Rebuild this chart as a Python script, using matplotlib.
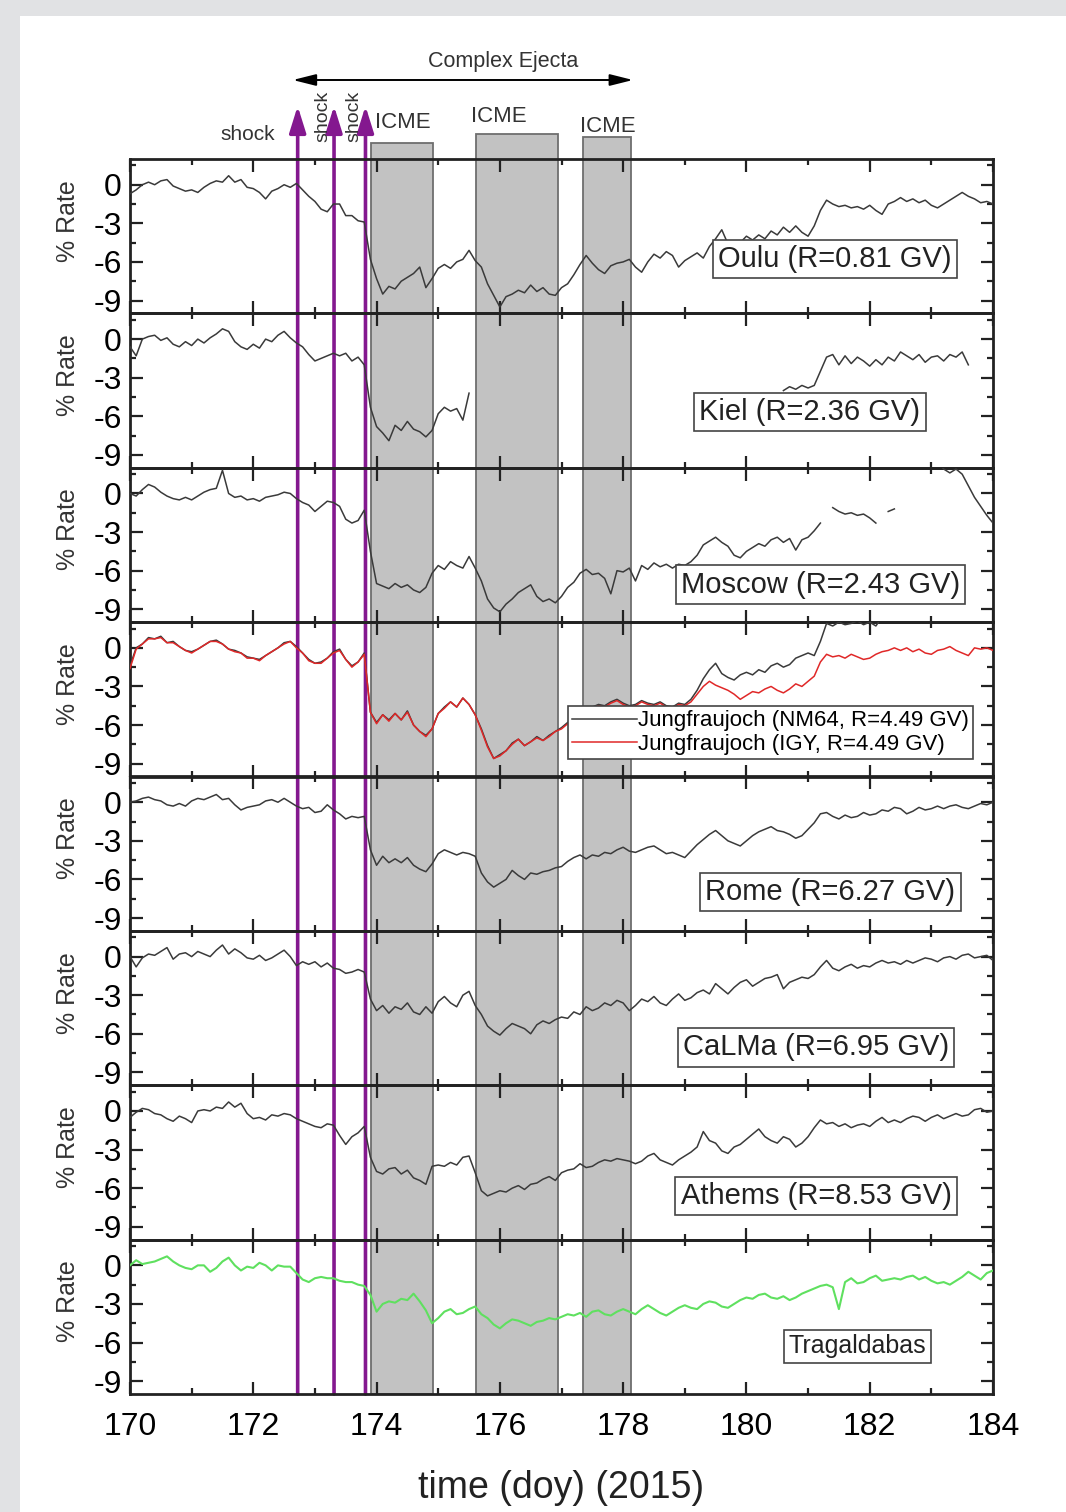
import numpy as np
import matplotlib
matplotlib.use("Agg")
import matplotlib.pyplot as plt
from matplotlib.patches import Rectangle
from matplotlib.ticker import MultipleLocator, FixedLocator

plt.rcParams['font.family'] = ['Liberation Sans', 'DejaVu Sans']

# ---------------- data ----------------
days = np.round(np.arange(170.0, 184.0001, 0.1), 1)   # sampling grid (doy 2015)
nan = np.nan

oulu = [-0.7,-0.4,0.0,0.2,0.0,0.3,0.4,-0.1,-0.3,-0.5,
        -0.4,-0.6,-0.2,0.1,0.3,0.2,0.7,0.2,0.4,-0.2,
        -0.3,-0.6,-1.1,-0.5,-0.3,0.0,-0.2,0.1,-0.4,-0.9,
        -1.3,-1.9,-2.1,-1.5,-1.5,-2.4,-2.4,-2.8,-2.9,-5.8,
        -7.3,-8.5,-7.9,-8.1,-7.5,-7.2,-6.9,-6.4,-8.0,-7.3,
        -6.5,-6.2,-6.5,-6.0,-5.8,-5.1,-5.9,-6.4,-7.7,-8.6,
        -9.5,-8.7,-8.5,-8.2,-8.4,-7.8,-8.3,-8.0,-8.5,-8.6,
        -8.0,-7.7,-7.0,-6.2,-5.5,-6.1,-6.6,-6.9,-6.3,-6.1,
        -6.0,-5.8,-6.4,-6.8,-6.0,-5.4,-5.7,-5.2,-5.5,-6.4,
        -5.9,-5.6,-5.3,-5.7,-4.8,-4.2,-3.5,-4.6,-4.4,-4.5,
        -4.0,-4.3,-3.9,-4.2,-3.6,-3.9,-3.3,-3.7,-3.2,-3.7,
        -4.0,-3.2,-2.0,-1.2,-1.5,-1.7,-1.6,-1.8,-1.7,-1.9,
        -1.6,-2.0,-2.3,-1.5,-1.3,-1.0,-1.3,-1.1,-1.4,-1.2,
        -1.6,-1.8,-1.5,-1.2,-0.9,-0.6,-0.9,-1.1,-1.4,-1.3,
        -1.5]

kiel = [-0.6,-1.3,0.0,0.2,0.3,-0.1,0.1,-0.4,-0.6,-0.2,
        -0.5,0.0,-0.3,0.1,0.4,0.8,0.6,-0.2,-0.6,-0.8,
        -0.4,-0.7,0.0,-0.2,0.3,0.6,0.1,-0.3,-0.6,-1.2,
        -1.7,-1.5,-1.3,-1.1,-1.3,-1.1,-1.7,-1.4,-2.0,-5.3,
        -6.8,-7.3,-7.9,-6.7,-7.1,-6.4,-7.0,-7.2,-7.6,-7.1,
        -5.8,-5.3,-5.6,-5.4,-6.3,-4.2,nan,nan,nan,nan,
        nan,nan,nan,nan,nan,nan,nan,nan,nan,nan,
        nan,nan,nan,nan,nan,nan,nan,nan,nan,nan,
        nan,nan,nan,nan,nan,nan,nan,nan,nan,nan,
        nan,nan,nan,nan,nan,nan,nan,nan,nan,nan,
        nan,nan,nan,nan,nan,nan,-4.0,-3.7,-3.9,-3.6,
        -3.8,-3.6,-2.5,-1.4,-1.2,-2.0,-1.3,-1.9,-1.4,-1.7,
        -2.1,-1.6,-2.0,-1.4,-1.7,-1.0,-1.3,-1.6,-1.2,-1.8,
        -1.4,-1.3,-1.7,-1.2,-1.4,-1.0,-2.0,nan,nan,nan,
        nan]

moscow = [0.0,-0.2,0.3,0.7,0.5,0.1,-0.2,-0.4,-0.5,-0.3,
          -0.5,-0.2,0.1,0.3,0.4,1.8,0.0,-0.3,-0.2,-0.5,
          -0.4,-0.6,-0.3,-0.2,-0.1,0.1,0.0,-0.4,-0.7,-0.9,
          -1.4,-1.0,-0.6,-0.7,-1.0,-2.0,-2.3,-2.1,-1.3,-4.5,
          -7.0,-7.2,-7.4,-7.0,-7.3,-7.1,-7.5,-7.7,-7.3,-6.2,
          -5.6,-5.9,-5.3,-5.6,-5.8,-4.9,-5.8,-6.8,-8.2,-8.9,
          -9.2,-8.6,-8.2,-7.7,-7.4,-7.1,-8.0,-8.4,-8.2,-8.5,
          -8.0,-7.3,-6.9,-6.2,-5.9,-6.3,-6.2,-6.6,-7.8,-6.0,
          -6.1,-5.8,-6.8,-5.6,-5.9,-5.4,-5.7,-5.5,-5.8,-5.5,
          -5.6,-5.3,-4.8,-4.0,-3.7,-3.4,-3.8,-4.1,-4.8,-5.0,
          -4.5,-4.2,-3.9,-4.1,-3.6,-3.4,-3.8,-3.5,-4.4,-3.6,
          -3.4,-2.9,-2.3,nan,-1.1,-1.4,-1.6,-1.5,-1.7,-1.6,
          -1.9,-2.3,nan,-1.4,-1.2,nan,nan,nan,nan,nan,
          nan,2.4,1.9,1.6,1.9,1.5,0.6,-0.3,-1.0,-1.7,
          -2.3]

jf_nm64 = [-1.4,0.0,0.3,0.8,0.7,0.9,0.4,0.5,0.1,-0.2,
           -0.3,-0.1,0.2,0.5,0.6,0.3,-0.1,-0.2,-0.4,-0.7,
           -0.8,-0.9,-0.6,-0.3,0.0,0.4,0.5,0.1,-0.4,-0.9,
           -1.2,-1.1,-0.8,-0.3,-0.1,-0.9,-1.4,-1.1,-0.4,-5.0,
           -5.8,-5.2,-5.6,-5.1,-5.6,-4.9,-6.0,-6.5,-6.8,-6.3,
           -5.1,-4.6,-4.2,-4.6,-3.9,-4.4,-5.2,-6.3,-7.6,-8.6,
           -8.3,-8.0,-7.4,-7.1,-7.6,-7.3,-6.9,-7.2,-6.8,-6.5,
           -6.2,-5.8,-5.4,-5.0,-4.8,-4.6,-4.4,-4.5,-4.2,-4.0,
           -4.3,-4.5,-4.4,-4.1,-4.3,-4.4,-4.2,-4.5,-4.6,-4.3,
           -4.4,-4.0,-3.3,-2.4,-1.7,-1.2,-2.0,-2.3,-2.5,-2.1,
           -1.9,-2.1,-1.7,-1.9,-1.4,-1.2,-1.5,-1.3,-0.8,-0.6,
           -0.4,-0.6,0.5,1.9,1.7,2.0,1.8,1.9,2.1,1.8,
           2.0,1.7,2.4,2.6,2.5,2.7,2.6,2.8,2.7,2.9,
           2.8,3.0,2.9,3.1,3.0,2.9,3.1,3.0,3.2,3.1,
           3.0]

jf_igy = [-1.6,-0.1,0.3,0.7,0.7,0.8,0.4,0.4,0.1,-0.2,
          -0.4,-0.1,0.2,0.5,0.5,0.3,-0.1,-0.3,-0.4,-0.8,
          -0.8,-1.0,-0.6,-0.3,0.0,0.3,0.5,0.0,-0.4,-1.0,
          -1.2,-1.2,-0.8,-0.4,-0.2,-0.9,-1.5,-1.1,-0.5,-5.0,
          -5.9,-5.2,-5.7,-5.1,-5.6,-5.0,-6.0,-6.5,-6.9,-6.3,
          -5.1,-4.7,-4.2,-4.6,-3.9,-4.4,-5.2,-6.4,-7.7,-8.6,
          -8.4,-8.0,-7.5,-7.1,-7.6,-7.3,-7.0,-7.2,-6.9,-6.5,
          -6.3,-5.9,-5.5,-5.1,-4.9,-4.7,-4.5,-4.6,-4.3,-4.1,
          -4.4,-4.6,-4.5,-4.2,-4.4,-4.5,-4.3,-4.6,-4.7,-4.4,
          -4.5,-4.2,-3.6,-3.0,-2.6,-2.9,-3.1,-3.3,-3.6,-4.0,
          -3.7,-3.4,-3.5,-3.2,-3.0,-3.3,-3.5,-3.2,-2.8,-3.0,
          -2.6,-2.2,-1.1,-0.5,-0.7,-0.6,-0.8,-0.5,-0.7,-0.9,
          -0.8,-0.5,-0.3,-0.2,0.0,-0.2,0.0,-0.3,-0.1,-0.4,
          -0.5,-0.2,-0.1,0.1,-0.2,-0.4,-0.6,0.0,-0.1,0.0,
          -0.2]

rome = [0.0,0.1,0.3,0.4,0.2,0.1,-0.2,-0.3,-0.1,-0.3,
        0.1,0.3,0.2,0.4,0.6,0.2,0.3,-0.2,-0.6,-0.4,
        -0.3,-0.2,0.1,0.2,0.0,0.3,0.0,-0.3,-0.5,-0.4,
        -0.8,-0.7,-0.2,-0.6,-0.9,-1.3,-1.1,-1.2,-1.1,-3.7,
        -4.9,-4.2,-4.7,-4.4,-4.7,-4.3,-4.9,-5.2,-5.4,-4.8,
        -4.0,-3.7,-3.9,-4.1,-3.9,-4.0,-4.2,-5.5,-6.2,-6.6,
        -6.3,-6.0,-5.3,-5.7,-6.0,-5.5,-5.6,-5.4,-5.3,-5.1,
        -5.0,-4.6,-4.3,-4.1,-4.4,-4.1,-4.2,-3.9,-4.0,-3.7,
        -3.5,-3.8,-3.9,-3.7,-3.5,-3.4,-3.7,-4.0,-3.9,-4.1,
        -4.3,-3.8,-3.3,-2.9,-2.5,-2.2,-2.6,-3.0,-3.2,-3.4,
        -3.0,-2.6,-2.3,-2.1,-1.9,-2.2,-2.3,-2.5,-2.8,-2.6,
        -2.1,-1.6,-0.9,-0.8,-1.1,-1.3,-1.0,-1.2,-1.1,-0.8,
        -1.0,-0.9,-0.6,-0.7,-0.4,-0.5,-0.9,-0.7,-0.4,-0.6,
        -0.5,-0.3,-0.5,-0.3,-0.2,-0.4,-0.5,-0.3,-0.1,-0.2,
        0.0]

calma = [0.0,-0.8,-0.1,0.2,0.1,0.4,0.7,-0.2,0.2,0.3,
         0.0,0.4,0.2,0.0,0.5,0.9,0.2,0.6,0.3,-0.1,
         -0.2,0.1,-0.3,-0.1,0.2,0.5,0.0,-0.7,-0.4,-0.6,
         -0.4,-0.8,-0.5,-0.9,-1.0,-1.3,-1.2,-1.0,-1.2,-3.3,
         -4.2,-3.8,-4.4,-3.9,-4.1,-3.6,-4.3,-4.5,-3.9,-4.4,
         -3.5,-3.1,-3.6,-3.9,-3.0,-2.7,-3.8,-4.5,-5.4,-5.8,
         -6.1,-5.6,-5.2,-5.4,-5.6,-6.0,-5.3,-5.0,-5.2,-4.9,
         -4.7,-4.8,-4.3,-4.5,-3.9,-4.2,-4.0,-3.6,-3.8,-3.4,
         -3.6,-4.2,-3.8,-3.3,-3.5,-3.1,-3.6,-3.8,-3.3,-2.9,
         -3.4,-3.2,-2.8,-2.6,-2.9,-2.1,-2.5,-2.9,-2.4,-2.0,
         -1.8,-2.3,-2.0,-1.7,-1.6,-1.4,-2.5,-2.0,-1.8,-1.6,
         -1.7,-1.4,-0.8,-0.3,-0.9,-1.1,-0.8,-0.6,-0.9,-0.7,
         -0.8,-0.5,-0.3,-0.5,-0.4,-0.6,-0.3,-0.5,-0.3,-0.1,
         -0.2,-0.4,-0.1,0.0,-0.2,0.1,0.2,-0.1,0.0,0.1,
         -0.3]

athens = [-0.5,-0.1,0.2,0.1,-0.2,-0.3,-0.6,-0.8,-0.4,-0.6,
          -0.9,0.0,0.1,0.0,0.3,0.2,0.7,0.3,0.6,-0.2,
          -0.6,-0.5,-0.7,-0.3,-0.4,-0.2,-0.3,-0.6,-0.8,-1.0,
          -1.2,-1.3,-1.0,-1.1,-1.9,-2.6,-2.0,-1.7,-1.2,-3.6,
          -4.7,-4.9,-4.5,-4.4,-4.9,-4.6,-5.2,-5.4,-5.7,-4.3,
          -4.2,-4.3,-4.0,-4.2,-3.6,-3.5,-4.8,-6.2,-6.6,-6.4,
          -6.2,-6.3,-6.0,-5.8,-6.1,-5.7,-5.6,-5.3,-5.1,-5.4,
          -4.8,-4.6,-4.5,-4.1,-4.4,-4.3,-4.0,-3.8,-3.9,-3.7,
          -3.8,-3.9,-4.1,-3.9,-3.5,-3.3,-3.8,-4.0,-4.2,-3.8,
          -3.5,-3.2,-2.8,-1.6,-2.3,-2.5,-3.1,-3.3,-2.8,-2.6,
          -2.2,-1.8,-1.4,-2.0,-2.3,-2.5,-2.0,-2.2,-2.8,-2.5,
          -2.0,-1.3,-0.7,-1.0,-0.9,-1.2,-1.0,-1.3,-1.1,-1.0,
          -1.2,-0.8,-0.5,-0.9,-0.7,-0.9,-0.6,-0.4,-0.5,-0.8,
          -0.5,-0.3,-0.6,-0.4,-0.2,-0.4,-0.3,0.1,0.2,-0.1,
          0.0]

tragaldabas = [0.0,0.4,0.1,0.2,0.3,0.5,0.7,0.3,0.0,-0.2,
               -0.3,0.0,0.0,-0.5,-0.2,0.3,0.6,0.0,-0.4,-0.1,
               -0.2,0.2,0.0,-0.4,0.0,-0.1,-0.1,-0.6,-1.1,-1.3,
               -1.0,-0.9,-1.0,-1.0,-1.2,-1.3,-1.3,-1.5,-1.6,-2.3,
               -3.6,-3.0,-2.8,-2.9,-2.6,-2.7,-2.2,-2.8,-3.5,-4.5,
               -4.1,-3.6,-3.4,-3.8,-3.7,-3.4,-3.2,-3.8,-4.1,-4.6,
               -4.9,-4.5,-4.2,-4.3,-4.5,-4.7,-4.4,-4.3,-4.1,-4.2,
               -4.0,-3.8,-3.9,-3.7,-4.0,-3.6,-3.5,-3.8,-3.9,-3.6,
               -3.4,-3.6,-3.8,-3.4,-3.1,-3.4,-3.7,-3.9,-3.6,-3.3,
               -3.1,-3.3,-3.4,-3.0,-2.8,-2.9,-3.2,-3.3,-3.0,-2.7,
               -2.5,-2.6,-2.3,-2.2,-2.5,-2.6,-2.4,-2.7,-2.5,-2.2,
               -2.0,-1.8,-1.6,-1.5,-1.7,-3.4,-1.3,-1.0,-1.4,-1.3,
               -1.0,-0.8,-1.2,-1.1,-1.0,-1.1,-0.9,-0.8,-1.1,-0.9,
               -1.2,-1.4,-1.3,-1.5,-1.2,-0.9,-0.5,-0.8,-1.1,-0.6,
               -0.4]

stations = ["Oulu (R=0.81 GV)", "Kiel (R=2.36 GV)", "Moscow (R=2.43 GV)", None,
            "Rome (R=6.27 GV)", "CaLMa (R=6.95 GV)", "Athems (R=8.53 GV)", "Tragaldabas"]
label_pos = [(181.44, -5.76), (181.03, -5.66), (181.2, -7.08), None,
             (181.36, -6.98), (181.13, -7.05), (181.13, -6.6), (181.8, -6.3)]
series = [oulu, kiel, moscow, None, rome, calma, athens, tragaldabas]
legend_labels = ["Jungfraujoch (NM64, R=4.49 GV)", "Jungfraujoch (IGY, R=4.49 GV)"]

shock_days = [172.72, 173.31, 173.82]
icme_start = [173.91, 175.61, 177.35]
icme_end = [174.92, 176.94, 178.12]
ejecta_span = [172.64, 178.16]

x_ticks = [170, 172, 174, 176, 178, 180, 182, 184]
y_ticks = [0, -3, -6, -9]

# ---------------- layout ----------------
W, H = 1066, 1512
fig = plt.figure(figsize=(W / 100, H / 100), dpi=100)
fig.patch.set_facecolor('#e1e2e4')
fig.patches.append(Rectangle((20 / W, 0), 1 - 20 / W, 1 - 16 / H, transform=fig.transFigure,
                             facecolor='white', edgecolor='none', zorder=-10))

px_left, px_right = 130, 993
px_top, px_bot = 159, 1394
L, R = px_left / W, px_right / W
T, B = 1 - px_top / H, 1 - px_bot / H
npan = 8
ph = (T - B) / npan

# background overlay axes in (day, pixel-y) coordinates
axbg = fig.add_axes([0, 0, 1, 1], zorder=0)
axbg.set_axis_off()
dpd = (px_right - px_left) / 14.0
axbg.set_xlim(170 - px_left / dpd, 184 + (W - px_right) / dpd)
axbg.set_ylim(H, 0)

box_tops = [143, 134, 137]
for s, e, t in zip(icme_start, icme_end, box_tops):
    axbg.add_patch(Rectangle((s, t), e - s, px_bot - t, facecolor='#c2c2c2',
                             edgecolor='#6e6e6e', lw=1.3, zorder=1))

purple = '#84188f'
for d in shock_days:
    axbg.annotate('', xy=(d, 106), xytext=(d, px_bot),
                  arrowprops=dict(arrowstyle='-|>,head_length=1.6,head_width=0.5',
                                  color=purple, lw=2.6, shrinkA=0, shrinkB=0), zorder=3)

axbg.annotate('', xy=(ejecta_span[0], 80), xytext=(ejecta_span[1], 80),
              arrowprops=dict(arrowstyle='<|-|>,head_length=1.4,head_width=0.35',
                              color='black', lw=1.4, shrinkA=0, shrinkB=0))
txtc = '#333333'
axbg.text(176.05, 61, 'Complex Ejecta', ha='center', va='center',
          fontsize=15.5, color=txtc)
axbg.text(shock_days[0] - 0.81, 135, 'shock', ha='center', va='center', fontsize=15, color=txtc)
axbg.text(shock_days[1] - 0.18, 116, 'shock', ha='center', va='center', fontsize=14,
          rotation=90, color=txtc)
axbg.text(shock_days[2] - 0.19, 116, 'shock', ha='center', va='center', fontsize=14,
          rotation=90, color=txtc)
icme_lbl = [(174.42, 122), (175.99, 117), (177.75, 127)]
for (x, y) in icme_lbl:
    axbg.text(x, y, 'ICME', ha='center', va='center', fontsize=16, color=txtc)

# ---------------- panels ----------------
axes = []
for i in range(npan):
    ax = fig.add_axes([L, T - (i + 1) * ph, R - L, ph], zorder=1)
    ax.set_facecolor('none')
    ax.set_xlim(170, 184)
    ax.set_ylim(-10, 2)
    ax.xaxis.set_major_locator(FixedLocator(x_ticks))
    ax.xaxis.set_minor_locator(MultipleLocator(1))
    ax.yaxis.set_major_locator(FixedLocator(y_ticks))
    ax.yaxis.set_minor_locator(FixedLocator([1.5, -1.5, -4.5, -7.5]))
    ax.tick_params(which='both', direction='in', top=True, right=True, width=1.6,
                   color='#222222')
    ax.tick_params(which='major', length=9, labelsize=23, pad=6)
    ax.tick_params(axis='x', which='major', pad=13)
    ax.tick_params(which='minor', length=4.5)
    ax.set_yticklabels([str(v) for v in y_ticks])
    if i < npan - 1:
        ax.tick_params(labelbottom=False)
    for sp in ax.spines.values():
        sp.set_linewidth(2.0)
        sp.set_color('#222222')
    ax.set_ylabel('% Rate', fontsize=18, color='#333333')
    ax.yaxis.set_label_coords(-0.058, 0.6)
    axes.append(ax)

for i, ax in enumerate(axes):
    if i == 3:
        ax.plot(days, jf_nm64, color='#3a3a3a', lw=1.1, label=legend_labels[0], zorder=3)
        ax.plot(days, jf_igy, color='#e02828', lw=1.1, label=legend_labels[1], zorder=4)
        leg = ax.legend(loc='upper left', bbox_to_anchor=(0.5075, 0.457), borderaxespad=0,
                        fontsize=16, frameon=True, fancybox=False, framealpha=1,
                        edgecolor='#444444', handlelength=2.9, handletextpad=0.05,
                        borderpad=0.2, labelspacing=0.1)
        leg.get_frame().set_linewidth(1.2)
        leg.set_zorder(6)
        continue
    col = '#5fe05f' if i == 7 else '#3a3a3a'
    lw = 1.5 if i == 7 else 1.1
    ax.plot(days, series[i], color=col, lw=lw, zorder=3)
    x, y = label_pos[i]
    fs = 18 if i == 7 else 21
    ax.text(x, y, stations[i], ha='center', va='center', fontsize=fs, color='#222222', zorder=6,
            bbox=dict(boxstyle='square,pad=0.18', facecolor='white', edgecolor='#444444', lw=1.2))

axes[-1].set_xlabel('time (doy) (2015)', fontsize=27, color='#222222', labelpad=20)

fig.savefig('out.png', dpi=100, facecolor=fig.get_facecolor())
